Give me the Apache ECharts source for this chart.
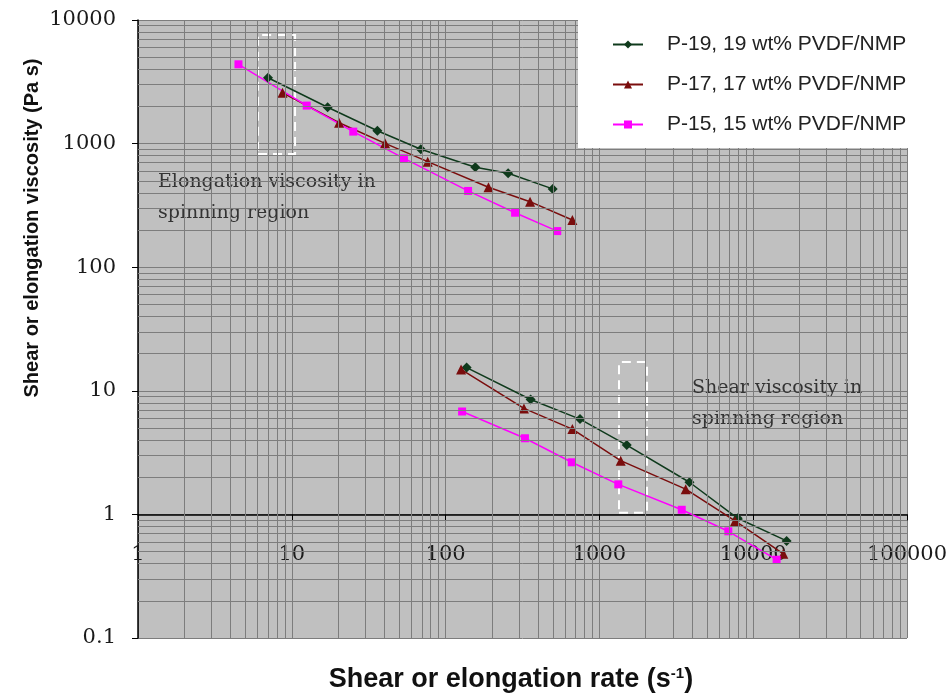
<!DOCTYPE html>
<html>
<head>
<meta charset="utf-8">
<script src="https://cdn.jsdelivr.net/npm/echarts@6/dist/echarts.min.js"></script>
<style>html,body{margin:0;padding:0;background:#fff;}#c{width:952px;height:697px;}</style>
</head>
<body>
<div id="c"></div>
<script>
// ---- data ----
const seriesNames = ['P-19, 19 wt% PVDF/NMP', 'P-17, 17 wt% PVDF/NMP', 'P-15, 15 wt% PVDF/NMP'];
// elongation viscosity branch
const p19ElongX = [7.0, 17.1, 36.0, 69, 156, 255, 497];
const p19ElongY = [3410, 1970, 1270, 900, 643, 575, 430];
const p17ElongX = [8.7, 20.3, 40.4, 76.5, 190, 354, 667];
const p17ElongY = [2580, 1476, 1005, 714, 443, 339, 241];
const p15ElongX = [4.5, 12.5, 25.1, 53.6, 140, 283, 532];
const p15ElongY = [4380, 2030, 1250, 760, 414, 276, 196];
// shear viscosity branch
const p19ShearX = [137, 357, 748, 1506, 3850, 7930, 16500];
const p19ShearY = [15.4, 8.5, 5.9, 3.64, 1.82, 0.93, 0.61];
const p17ShearX = [126, 323, 667, 1375, 3640, 7620, 15700];
const p17ShearY = [14.9, 7.2, 4.9, 2.72, 1.6, 0.885, 0.48];
const p15ShearX = [128, 328, 661, 1327, 3430, 6890, 14200];
const p15ShearY = [6.8, 4.13, 2.64, 1.75, 1.09, 0.73, 0.43];
// axis ranges / ticks
const xTicks = [1, 10, 100, 1000, 10000, 100000];
const yTicks = [0.1, 1, 10, 100, 1000, 10000];
// dashed "spinning region" boxes [x0, x1, y0, y1]
const elongBox = [6.03, 10.5, 824, 7570];
const shearBox = [1341, 2040, 1.03, 17.1];

const zip = (xs, ys) => xs.map((x, i) => [x, ys[i]]);

const styles = [
  {color: '#0f3a1c', symbol: 'diamond', size: 10},
  {color: '#7a0d0d', symbol: 'triangle', size: 10},
  {color: '#ff00ff', symbol: 'rect', size: 8}
];
const branches = [
  [zip(p19ElongX, p19ElongY), zip(p19ShearX, p19ShearY)],
  [zip(p17ElongX, p17ElongY), zip(p17ShearX, p17ShearY)],
  [zip(p15ElongX, p15ElongY), zip(p15ShearX, p15ShearY)]
];

// minor grid lines (2..9 in every decade)
const minorLines = [];
for (let d = 0; d < 5; d++) {
  for (let k = 2; k <= 9; k++) minorLines.push({xAxis: k * Math.pow(10, d)});
}
for (let d = -1; d < 4; d++) {
  for (let k = 2; k <= 9; k++) minorLines.push({yAxis: +(k * Math.pow(10, d)).toPrecision(3)});
}

const gridColor = '#7d7d7d';
const series = [{
  type: 'line',
  name: '_grid',
  data: [],
  silent: true,
  z: 1,
  markLine: {
    silent: true, symbol: 'none', animation: false,
    label: {show: false},
    lineStyle: {color: gridColor, width: 1, type: 'solid'},
    data: minorLines
  },
  markArea: {
    silent: true,
    itemStyle: {color: 'rgba(0,0,0,0)', borderColor: '#ffffff', borderWidth: 2, borderType: [9, 6]},
    data: [
      [{xAxis: elongBox[0], yAxis: elongBox[2]}, {xAxis: elongBox[1], yAxis: elongBox[3]}],
      [{xAxis: shearBox[0], yAxis: shearBox[2]}, {xAxis: shearBox[1], yAxis: shearBox[3]}]
    ]
  }
}];
branches.forEach((br, i) => {
  br.forEach(data => {
    series.push({
      type: 'line',
      name: seriesNames[i],
      data: data,
      z: 3,
      symbol: styles[i].symbol,
      symbolSize: styles[i].size,
      lineStyle: {color: styles[i].color, width: 1.5},
      itemStyle: {color: styles[i].color},
      animation: false
    });
  });
});

const plainLabel = v => String(+(+v).toPrecision(6));

const chart = echarts.init(document.getElementById('c'), null, {renderer: 'canvas'});
chart.setOption({
  animation: false,
  backgroundColor: '#ffffff',
  grid: {left: 138, top: 20, right: 45, bottom: 59, show: true, backgroundColor: '#c0c0c0', borderWidth: 0},
  xAxis: {
    type: 'log', logBase: 10, min: xTicks[0], max: xTicks[xTicks.length - 1],
    offset: -123.6,
    axisLine: {show: true, lineStyle: {color: '#000', width: 1.5}},
    axisTick: {show: true, inside: false, length: 6, lineStyle: {color: '#000'}},
    axisLabel: {show: true, margin: 30, fontFamily: 'DejaVu Serif', fontSize: 21, color: '#1a1a1a', formatter: plainLabel},
    splitLine: {show: true, lineStyle: {color: gridColor, width: 1}},
    minorTick: {show: false}
  },
  yAxis: {
    type: 'log', logBase: 10, min: yTicks[0], max: yTicks[yTicks.length - 1],
    axisLine: {show: true, lineStyle: {color: '#000', width: 1.5}},
    axisTick: {show: true, inside: false, length: 6, lineStyle: {color: '#000'}},
    axisLabel: {show: true, margin: 22, fontFamily: 'DejaVu Serif', fontSize: 21, color: '#1a1a1a', formatter: plainLabel},
    splitLine: {show: true, lineStyle: {color: gridColor, width: 1}}
  },
  legend: {
    data: seriesNames,
    orient: 'vertical',
    left: 578, top: 0,
    z: 120,
    padding: [34, 50, 14, 34],
    itemGap: 19,
    itemWidth: 30, itemHeight: 10,
    textStyle: {fontFamily: 'Liberation Sans', fontSize: 21, color: '#222', padding: [0, 0, 0, 19]},
    selectedMode: false
  },
  graphic: [
    {type: 'rect', left: 578, top: 0, z: 100, silent: true,
     shape: {width: 374, height: 148}, style: {fill: '#ffffff'}},
    {type: 'text', left: 158, top: 167, z: 5, silent: true,
     style: {text: 'Elongation viscosity in\nspinning region', font: '19px "DejaVu Serif"', fill: '#333', lineHeight: 31}},
    {type: 'text', left: 692, top: 373, z: 5, silent: true,
     style: {text: 'Shear viscosity in\nspinning region', font: '19px "DejaVu Serif"', fill: '#333', lineHeight: 31}},
    {type: 'text', x: 32, y: 228, rotation: Math.PI / 2, z: 5, silent: true,
     style: {text: 'Shear or elongation viscosity (Pa s)', font: 'bold 20px "Liberation Sans"', fill: '#111', align: 'center', verticalAlign: 'middle'}},
    {type: 'text', x: 511, y: 680, z: 5, silent: true,
     style: {text: 'Shear or elongation rate (s{sup|-1})', font: 'bold 27px "Liberation Sans"', fill: '#111', align: 'center', verticalAlign: 'middle',
       rich: {sup: {font: 'bold 15px "Liberation Sans"', fill: '#111', verticalAlign: 'top', padding: [0, 0, 12, 0]}}}}
  ],
  series: series
});
</script>
</body>
</html>
